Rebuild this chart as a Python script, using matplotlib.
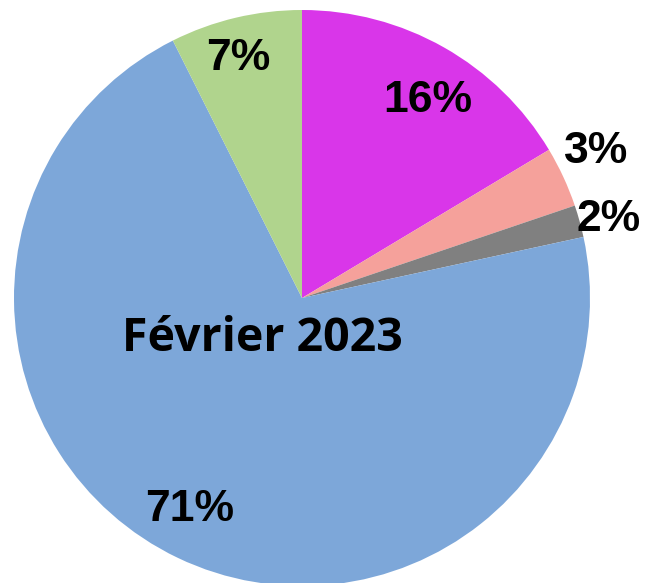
import matplotlib

matplotlib.use("Agg")
import matplotlib.pyplot as plt
import numpy as np

# share of each category, clockwise from 12 o'clock
categories = ["A", "B", "C", "D", "E"]
shares = [16.4, 3.4, 1.8, 71.0, 7.4]
colors = ["#d936e9", "#f5a19b", "#808080", "#7da7d9", "#b0d48d"]
# label placement: radius and clockwise nudge (degrees) from the wedge middle
label_radius = [0.815, 1.14, 1.10, 0.83, 0.86]
label_nudge = [3.0, -1.6, 1.1, 2.4, -1.7]
title = "Février 2023"

fig = plt.figure(figsize=(6.46, 5.83), dpi=100)
ax = fig.add_axes([14 / 646, -3 / 583, 576 / 646, 576 / 583])

wedges, _ = ax.pie(
    shares,
    colors=colors,
    startangle=90,
    counterclock=False,
    radius=1.0,
    wedgeprops=dict(linewidth=0),
)

total = sum(shares)
for w, val, r, nudge in zip(wedges, shares, label_radius, label_nudge):
    mid = np.deg2rad((w.theta1 + w.theta2) / 2 - nudge)
    ax.text(
        r * np.cos(mid),
        r * np.sin(mid),
        f"{100 * val / total:.0f}%",
        ha="center",
        va="center",
        fontsize=32,
        fontweight="bold",
        family="Liberation Sans",
        color="black",
    )

ax.text(-0.139, -0.139, title, ha="center", va="center", fontsize=33.5,
        fontweight="bold", family="Open Sans", color="black")

ax.set_xlim(-1, 1)
ax.set_ylim(-1, 1)
ax.set_aspect("equal")
ax.axis("off")

fig.savefig("out.png", dpi=100)
plt.close(fig)
